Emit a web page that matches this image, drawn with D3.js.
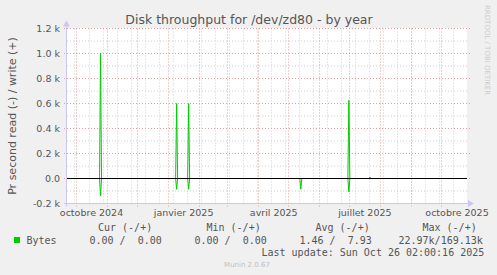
<!DOCTYPE html>
<html>
<head>
<meta charset="utf-8">
<script src="https://cdn.jsdelivr.net/npm/d3@7"></script>
<style>
  body { margin: 0; background: #f0f0f0; }
  svg { display: block; font-family: "DejaVu Sans", sans-serif; }
  .mono { font-family: "DejaVu Sans Mono", monospace; font-size: 10px; fill: #555; white-space: pre; }
</style>
</head>
<body>
<svg width="497" height="275"></svg>
<script>
// daily samples around each burst (bytes per second)
var dates = ["2024-10-25", "2024-10-26", "2024-10-27",
             "2025-01-09", "2025-01-10", "2025-01-11",
             "2025-01-21", "2025-01-22", "2025-01-23",
             "2025-05-13", "2025-05-14", "2025-05-15",
             "2025-06-30", "2025-07-01", "2025-07-02",
             "2025-07-21", "2025-07-22", "2025-07-23"];
var writeValues = [0, 1000, 0, 0, 600, 0, 0, 600, 0, 0, 0, 0, 0, 626, 0, 0, 12, 0];
var readValues  = [0, 140, 0, 0, 86, 0, 0, 86, 0, 0, 86, 0, 0, 107, 0, 0, 0, 0];

var yTicks = [-200, 0, 200, 400, 600, 800, 1000, 1200];
var yTickLabels = ["-0.2 k", "0.0", "0.2 k", "0.4 k", "0.6 k", "0.8 k", "1.0 k", "1.2 k"];
var monthLabels = ["octobre 2024", "janvier 2025", "avril 2025", "juillet 2025", "octobre 2025"];
var monthLabelDates = ["2024-10-01", "2025-01-01", "2025-04-01", "2025-07-01", "2025-10-01"];

var legendHeads = ["Cur (-/+)", "Min (-/+)", "Avg (-/+)", "Max (-/+)"];
var legendValues = ["0.00 /  0.00", "0.00 /  0.00", "1.46 /  7.93", "22.97k/169.13k"];

var parse = d3.timeParse("%Y-%m-%d");
var svg = d3.select("svg");
var pLeft = 67, pRight = 467, pTop = 28.5, pBottom = 203.5;

var x = d3.scaleTime()
    .domain([parse("2024-10-01"), parse("2025-10-01")])
    .range([75.5, 441]);
x.domain([x.invert(pLeft), x.invert(pRight)]).range([pLeft, pRight]);
var y = d3.scaleLinear().domain([-200, 1200]).range([pBottom, pTop]);

svg.append("rect").attr("width", 497).attr("height", 275).attr("fill", "#f0f0f0");
svg.append("rect").attr("x", pLeft).attr("y", pTop - 0.5).attr("width", pRight - pLeft).attr("height", pBottom - pTop).attr("fill", "#fff");

// title
svg.append("text").attr("x", 249).attr("y", 24).attr("text-anchor", "middle")
   .attr("font-size", 12.5).attr("fill", "#555")
   .text("Disk throughput for /dev/zd80 - by year");

svg.append("text").attr("transform", "translate(16,116) rotate(-90)")
   .attr("text-anchor", "middle").attr("font-size", 11).attr("fill", "#555")
   .text("Pr second read (-) / write (+)");

svg.append("text").attr("transform", "translate(485,5) rotate(90)")
   .attr("font-size", 7).attr("fill", "#cccccc")
   .text("RRDTOOL / TOBI OETIKER");

// grid
var g = svg.append("g");
var minorX = [];
for (var d = parse("2024-09-30"); d <= x.domain()[1]; d = d3.timeDay.offset(d, 14)) {
  if (d >= x.domain()[0]) minorX.push(d);
}
var majorX = d3.timeMonth.range(x.domain()[0], x.domain()[1]);
var minorY = d3.range(-200, 1201, 100);

g.selectAll(".vminor").data(minorX).enter().append("line")
  .attr("x1", d => Math.round(x(d)) + 0.5).attr("x2", d => Math.round(x(d)) + 0.5)
  .attr("y1", pTop).attr("y2", pBottom)
  .attr("stroke", "#d0d0d0").attr("stroke-dasharray", "1,2");
g.selectAll(".hminor").data(minorY).enter().append("line")
  .attr("x1", pLeft).attr("x2", pRight)
  .attr("y1", d => y(d)).attr("y2", d => y(d))
  .attr("stroke", "#d0d0d0").attr("stroke-dasharray", "1,2");
g.selectAll(".vmajor").data(majorX).enter().append("line")
  .attr("x1", d => Math.round(x(d)) + 0.5).attr("x2", d => Math.round(x(d)) + 0.5)
  .attr("y1", pTop).attr("y2", pBottom + 3)
  .attr("stroke", "#e4a0a0").attr("stroke-dasharray", "1,2");
g.selectAll(".hmajor").data(yTicks).enter().append("line")
  .attr("x1", pLeft - 3).attr("x2", pRight + 3)
  .attr("y1", d => y(d)).attr("y2", d => y(d))
  .attr("stroke", "#e4a0a0").attr("stroke-dasharray", "1,2");

// y labels
svg.selectAll(".ylab").data(yTicks).enter().append("text")
  .attr("x", 60).attr("y", d => y(d)).attr("dy", "0.35em")
  .attr("text-anchor", "end").attr("font-size", 9.5).attr("fill", "#555")
  .text((d, i) => yTickLabels[i]);

// x labels, centred on the middle of the month
svg.selectAll(".xlab").data(monthLabelDates).enter().append("text")
  .attr("x", d => x(parse(d)) + 16).attr("y", 216)
  .attr("text-anchor", "middle").attr("font-size", 9.5).attr("fill", "#555")
  .text((d, i) => monthLabels[i]);

// axes
var axisColor = "#c8c8f0";
svg.append("line").attr("x1", pLeft - 3).attr("x2", pRight + 2).attr("y1", pBottom).attr("y2", pBottom).attr("stroke", axisColor);
svg.append("path").attr("d", "M" + (pRight + 1) + "," + (pBottom - 3.5) + "L" + (pRight + 7) + "," + pBottom + "L" + (pRight + 1) + "," + (pBottom + 3.5) + "Z").attr("fill", axisColor);
svg.append("line").attr("x1", pLeft - 0.5).attr("x2", pLeft - 0.5).attr("y1", pBottom + 3).attr("y2", pTop - 3).attr("stroke", axisColor);
svg.append("path").attr("d", "M" + (pLeft - 4) + "," + (pTop - 2) + "L" + (pLeft - 0.5) + "," + (pTop - 8) + "L" + (pLeft + 3) + "," + (pTop - 2) + "Z").attr("fill", axisColor);

// data
var rows = dates.map((d, i) => ({ t: parse(d), w: writeValues[i], r: readValues[i] }));
var line = d3.line().x(d => x(d.t));
svg.append("path").datum(rows).attr("fill", "none").attr("stroke", "#00cc00")
  .attr("d", line.y(d => y(d.w)));
svg.append("path").datum(rows).attr("fill", "none").attr("stroke", "#00cc00")
  .attr("d", line.y(d => y(-d.r)));

// zero rule
svg.append("line").attr("x1", pLeft).attr("x2", pRight).attr("y1", y(0)).attr("y2", y(0)).attr("stroke", "#000");

// legend
var headX = [98, 206.5, 315.5, 422.5];
var valX = [89.5, 194.5, 299.5, 398.5];
svg.selectAll(".lh").data(legendHeads).enter().append("text").attr("class", "mono")
  .attr("x", (d, i) => headX[i]).attr("y", 231).text(d => d);
svg.append("rect").attr("x", 14).attr("y", 237).attr("width", 6).attr("height", 6).attr("fill", "#00cc00");
svg.append("text").attr("class", "mono").attr("x", 26.5).attr("y", 243.5).text("Bytes");
svg.selectAll(".lv").data(legendValues).enter().append("text").attr("class", "mono")
  .attr("x", (d, i) => valX[i]).attr("y", 243.5).text(d => d);
svg.append("text").attr("class", "mono").attr("x", 261.5).attr("y", 255.5)
  .text("Last update: Sun Oct 26 02:00:16 2025");
svg.append("text").attr("x", 247).attr("y", 266.5).attr("text-anchor", "middle")
  .attr("font-size", 7).attr("fill", "#c0c0c0").text("Munin 2.0.67");
</script>
</body>
</html>
